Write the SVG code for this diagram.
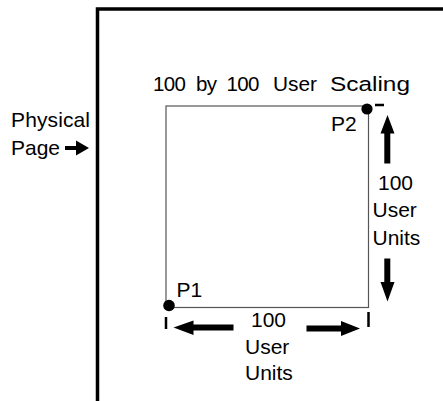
<svg xmlns="http://www.w3.org/2000/svg" width="443" height="401" viewBox="0 0 443 401">
<style>
text{font-family:"Liberation Sans",Arial,sans-serif;font-size:21px;fill:#000}
.t{font-size:20.5px}
.page{stroke:#000;stroke-width:3.5;fill:none}
.box{stroke:#555;stroke-width:1.2;fill:none}
.tick{stroke:#000;stroke-width:2.5}
.arr{fill:#000}
</style>
<rect width="443" height="401" fill="#fff"/>
<g id="page">
<path class="page" d="M97.5 401V9H443"/>
</g>
<g id="title">
<text class="t" x="153" y="91" textLength="33">100</text>
<text class="t" x="196" y="91" textLength="21">by</text>
<text class="t" x="226.5" y="91" textLength="33">100</text>
<text class="t" x="273" y="91" textLength="44" lengthAdjust="spacingAndGlyphs">User</text>
<text class="t" x="330" y="91" textLength="80" lengthAdjust="spacingAndGlyphs">Scaling</text>
</g>
<g id="physical-page">
<text x="11" y="127" textLength="79">Physical</text>
<text x="11" y="155">Page</text>
</g>
<g id="user-box">
<rect class="box" x="166" y="106" width="202.5" height="201.5"/>
</g>
<g id="p2">
<circle cx="367" cy="109" r="5.6"/>
<text x="331" y="131" font-size="20">P2</text>
</g>
<g id="p1">
<circle cx="169" cy="305.5" r="5.8"/>
<text x="176.5" y="297" font-size="20">P1</text>
</g>
<g id="vertical-label">
<text x="378" y="190">100</text>
<text x="372.5" y="217">User</text>
<text x="372.5" y="245">Units</text>
</g>
<g id="horizontal-label">
<text x="251" y="327">100</text>
<text x="245" y="354">User</text>
<text x="245" y="380">Units</text>
</g>
<g id="connectors">
<path class="arr" d="M65 146H76V140.5L89 148L76 155.5V150H65Z"/>
<line class="tick" x1="375" y1="105" x2="384" y2="105"/>
<path class="arr" d="M384.3 163.5V133.5H380.5L387.5 115L394.5 133.5H390.3V163.5Z"/>
<path class="arr" d="M384.3 258.5V282H380.5L387.5 301.5L394.5 282H390.3V258.5Z"/>
<line class="tick" x1="166" y1="317" x2="166" y2="329"/>
<line class="tick" x1="368.5" y1="312" x2="368.5" y2="327"/>
<path class="arr" d="M233.5 324.5H193.5V320.5L173.5 327.5L193.5 335V330.5H233.5Z"/>
<path class="arr" d="M306.5 325.5H341V321L360 328.5L341 336V331.5H306.5Z"/>
</g>
</svg>
